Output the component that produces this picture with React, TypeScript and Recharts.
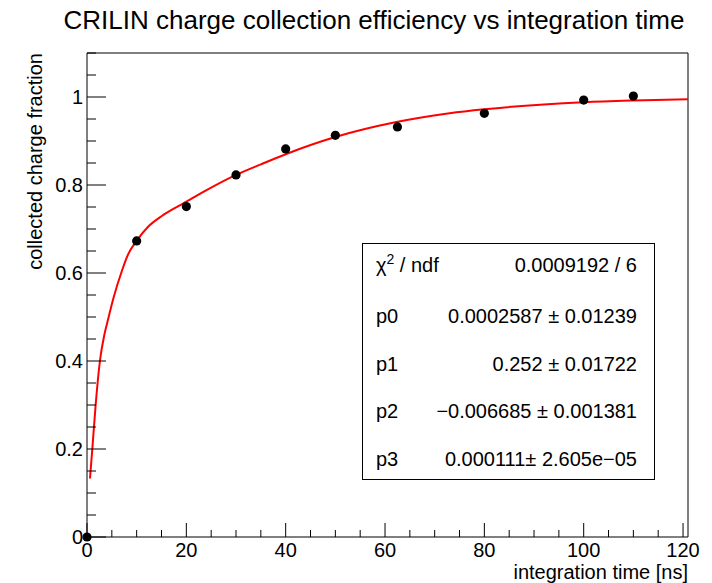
import { ComposedChart, Line, Scatter, XAxis, YAxis, ReferenceLine } from 'recharts';

// measured points
const points = [
  { x: 0, y: 0 },
  { x: 10, y: 0.673 },
  { x: 20, y: 0.751 },
  { x: 30, y: 0.823 },
  { x: 40, y: 0.882 },
  { x: 50, y: 0.913 },
  { x: 62.5, y: 0.932 },
  { x: 80, y: 0.963 },
  { x: 100, y: 0.993 },
  { x: 110, y: 1.002 },
];

// fit curve
const fitCurve = [
  { x: 0.6, y: 0.133 },
  { x: 1.07, y: 0.2 },
  { x: 1.74, y: 0.3 },
  { x: 2.6, y: 0.4 },
  { x: 3.5, y: 0.46 },
  { x: 4.3, y: 0.497 },
  { x: 5.3, y: 0.542 },
  { x: 7, y: 0.604 },
  { x: 8.3, y: 0.643 },
  { x: 9.8, y: 0.67 },
  { x: 12.3, y: 0.705 },
  { x: 15, y: 0.729 },
  { x: 18.4, y: 0.752 },
  { x: 20, y: 0.762 },
  { x: 23.7, y: 0.786 },
  { x: 30, y: 0.823 },
  { x: 35, y: 0.847 },
  { x: 40, y: 0.87 },
  { x: 50, y: 0.909 },
  { x: 62.3, y: 0.943 },
  { x: 73, y: 0.963 },
  { x: 80, y: 0.972 },
  { x: 100, y: 0.988 },
  { x: 110, y: 0.992 },
  { x: 121, y: 0.995 },
];

const xTicks = [0, 5, 10, 15, 20, 25, 30, 35, 40, 45, 50, 55, 60, 65, 70, 75, 80, 85, 90, 95, 100, 105, 110, 115, 120];
const xLabels = [0, 20, 40, 60, 80, 100, 120];
const yTicks = [0, 0.05, 0.1, 0.15, 0.2, 0.25, 0.3, 0.35, 0.4, 0.45, 0.5, 0.55, 0.6, 0.65, 0.7, 0.75, 0.8, 0.85, 0.9, 0.95, 1, 1.05, 1.1];
const yLabels = [0, 0.2, 0.4, 0.6, 0.8, 1];

const statsRows = [
  { name: 'p0', value: '0.0002587 \u00b1 0.01239' },
  { name: 'p1', value: '0.252 \u00b1 0.01722' },
  { name: 'p2', value: '\u22120.006685 \u00b1 0.001381' },
  { name: 'p3', value: '0.000111\u00b1 2.605e\u221205' },
];

const FONT = '"Liberation Sans", Arial, Helvetica, sans-serif';

function XTick(props: any) {
  const { x, y, payload } = props;
  const major = xLabels.includes(payload.value);
  return (
    <g>
      <line x1={x} y1={y} x2={x} y2={y - (major ? 14 : 7)} stroke="#000" strokeWidth={1} />
      {major && (
        <text x={x} y={y + 20} textAnchor="middle" fontSize={20} fontFamily={FONT} fill="#000">
          {payload.value}
        </text>
      )}
    </g>
  );
}

function YTick(props: any) {
  const { x, y, payload } = props;
  const major = yLabels.some((v) => Math.abs(v - payload.value) < 1e-6);
  return (
    <g>
      <line x1={x} y1={y} x2={x + (major ? 19 : 9)} y2={y} stroke="#000" strokeWidth={1} />
      {major && (
        <text x={x - 4} y={y + 7} textAnchor="end" fontSize={20} fontFamily={FONT} fill="#000">
          {payload.value}
        </text>
      )}
    </g>
  );
}

export default function App() {
  return (
    <div style={{ position: 'absolute', left: 0, top: 0, width: 712, height: 583, background: '#fff' }}>
      <ComposedChart
        width={712}
        height={583}
        margin={{ top: 53, right: 24, bottom: 16, left: 47 }}
      >
        <XAxis
          type="number"
          dataKey="x"
          domain={[0, 121]}
          ticks={xTicks}
          interval={0}
          tickSize={0}
          tickMargin={0}
          tickLine={false}
          tick={(p: any) => <XTick {...p} />}
          axisLine={{ stroke: '#000' }}
          height={30}
        />
        <YAxis
          type="number"
          dataKey="y"
          domain={[0, 1.1]}
          ticks={yTicks}
          interval={0}
          tickSize={0}
          tickMargin={0}
          tickLine={false}
          tick={(p: any) => <YTick {...p} />}
          axisLine={{ stroke: '#000' }}
          width={40}
        />
        <ReferenceLine y={1.1} stroke="#000" />
        <ReferenceLine x={121} stroke="#000" />
        <Line
          data={fitCurve}
          dataKey="y"
          type="monotone"
          stroke="#ff0000"
          strokeWidth={2}
          dot={false}
          isAnimationActive={false}
        />
        <Scatter data={points} dataKey="y" fill="#000" isAnimationActive={false}
          shape={(p: any) => <circle cx={p.cx} cy={p.cy} r={4.6} fill="#000" />} />
      </ComposedChart>
      <svg width={712} height={583} style={{ position: 'absolute', left: 0, top: 0, pointerEvents: 'none' }}>
        <text x={374} y={29} textAnchor="middle" fontSize={26} fontFamily={FONT} fill="#000">
          CRILIN charge collection efficiency vs integration time
        </text>
        <text x={688} y={579} textAnchor="end" fontSize={20} fontFamily={FONT} fill="#000">
          integration time [ns]
        </text>
        <text x={42} y={53} transform="rotate(-90 42 53)" textAnchor="end" fontSize={20} fontFamily={FONT} fill="#000">
          collected charge fraction
        </text>
        <rect x={362.5} y={243.5} width={292} height={236} fill="#fff" stroke="#000" strokeWidth={1} />
        <text x={376} y={272} fontSize={20} fontFamily={FONT} fill="#000">
          {'\u03c7'}
          <tspan dy={-8} fontSize={14}>2</tspan>
          <tspan dy={8}> / ndf</tspan>
        </text>
        <text x={637} y={272} textAnchor="end" fontSize={20} fontFamily={FONT} fill="#000">
          0.0009192 / 6
        </text>
        {statsRows.map((r, i) => (
          <g key={r.name}>
            <text x={376} y={323 + i * 47.6} fontSize={20} fontFamily={FONT} fill="#000">{r.name}</text>
            <text x={637} y={323 + i * 47.6} textAnchor="end" fontSize={20} fontFamily={FONT} fill="#000">{r.value}</text>
          </g>
        ))}
      </svg>
    </div>
  );
}
